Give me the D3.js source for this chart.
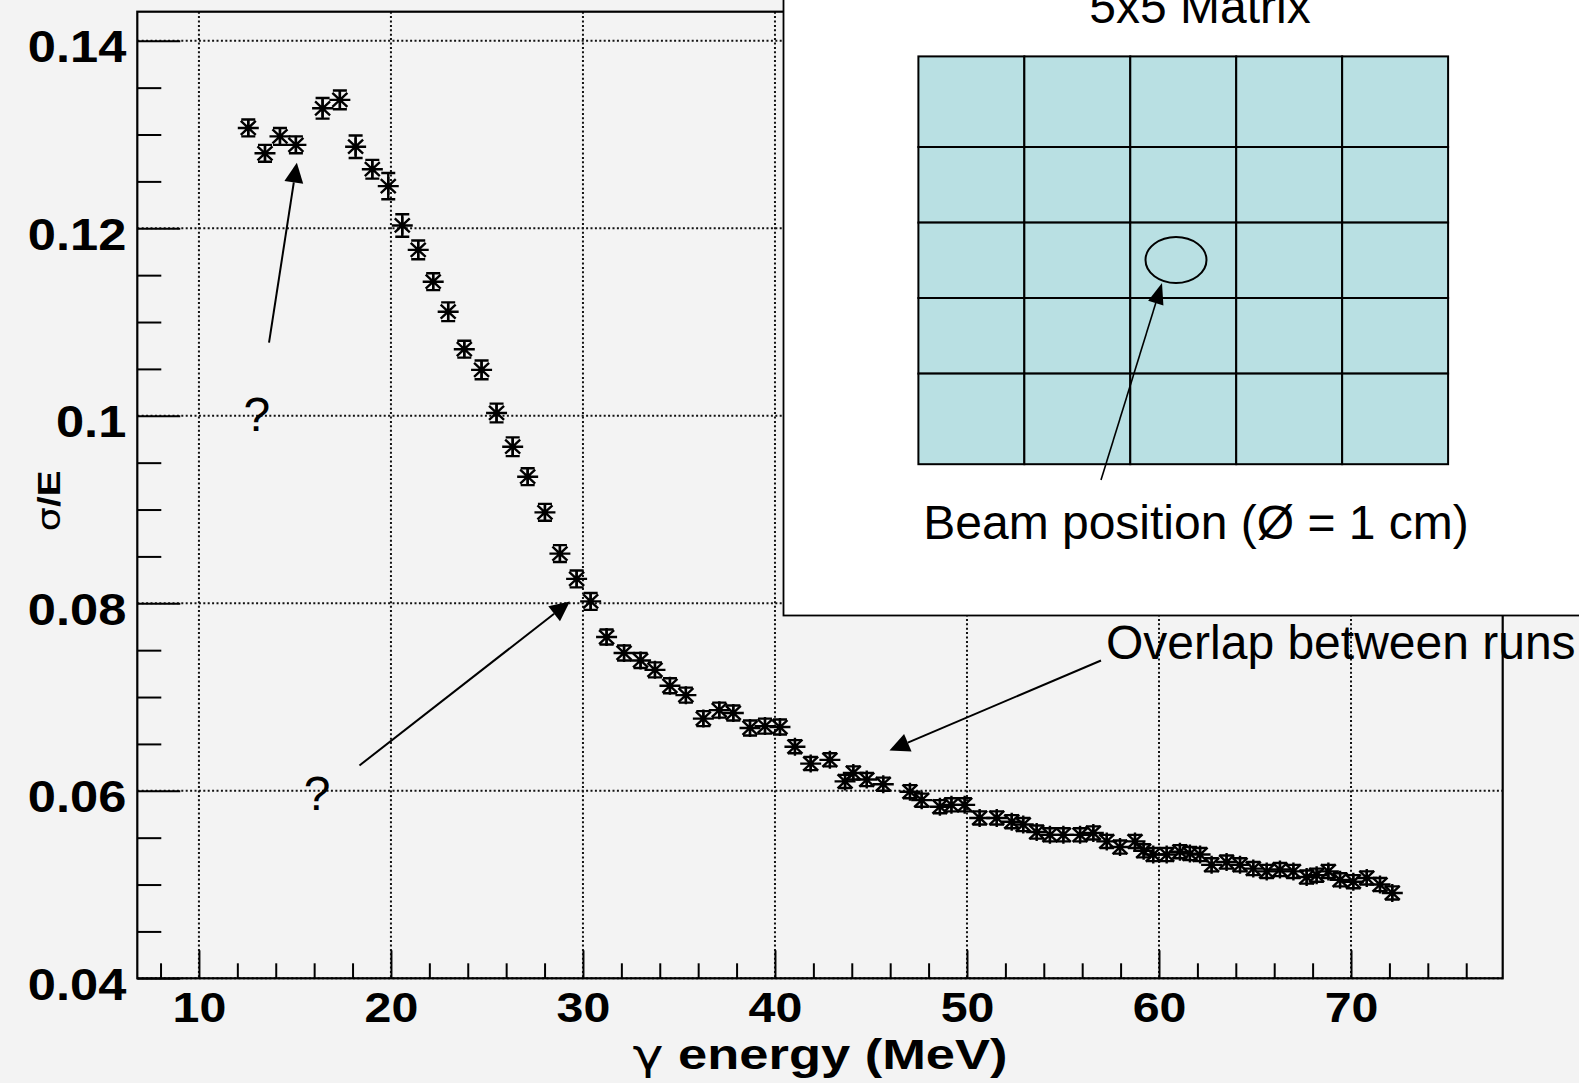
<!DOCTYPE html>
<html>
<head>
<meta charset="utf-8">
<script src="https://cdn.jsdelivr.net/npm/d3@7"></script>
<style>
  html, body { margin: 0; padding: 0; background: #f3f3f3; }
  svg { display: block; }
</style>
</head>
<body>
<svg id="chart"></svg>
<script>
// --- data ---
const energy = [12.57, 13.44, 14.22, 15.05, 16.44, 17.34, 18.16, 19.03, 19.86, 20.59,
  21.42, 22.20, 22.98, 23.82, 24.72, 25.50, 26.34, 27.12, 28.02, 28.80,
  29.67, 30.40, 31.23, 32.14, 33.00, 33.75, 34.53, 35.36, 36.27, 37.10,
  37.83, 38.70, 39.48, 40.26, 41.04, 41.86, 42.86, 43.65, 44.08, 44.78,
  45.64, 47.03, 47.64, 48.59, 49.19, 49.88, 50.66, 51.55, 52.33, 52.93,
  53.63, 54.32, 55.02, 55.89, 56.58, 57.28, 57.97, 58.75, 59.20, 59.70,
  60.40, 61.09, 61.61, 62.14, 62.74, 63.52, 64.22, 64.91, 65.61, 66.30,
  67.00, 67.69, 68.21, 68.82, 69.43, 70.12, 70.82, 71.51, 72.15];
const sigmaE = [0.1307, 0.1280, 0.1298, 0.1289, 0.1328, 0.1337, 0.1287, 0.1263, 0.1245, 0.1203,
  0.1177, 0.1143, 0.1111, 0.1071, 0.1049, 0.1003, 0.0967, 0.0935, 0.0897, 0.0853,
  0.0826, 0.0802, 0.0764, 0.0747, 0.0739, 0.0729, 0.0712, 0.0702, 0.0677, 0.0686,
  0.0683, 0.0667, 0.0669, 0.0668, 0.0647, 0.0629, 0.0633, 0.0610, 0.0619, 0.0612,
  0.0607, 0.0599, 0.0590, 0.0583, 0.0585, 0.0585, 0.0571, 0.0571, 0.0567, 0.0564,
  0.0556, 0.0553, 0.0553, 0.0553, 0.0555, 0.0546, 0.0540, 0.0546, 0.0536, 0.0532,
  0.0532, 0.0535, 0.0533, 0.0532, 0.0521, 0.0524, 0.0521, 0.0517, 0.0514, 0.0516,
  0.0514, 0.0508, 0.0510, 0.0514, 0.0505, 0.0503, 0.0507, 0.0500, 0.0491];
const sigmaErr = [0.0009, 0.0009, 0.0009, 0.0009, 0.0011, 0.0010, 0.0012, 0.0010, 0.0014, 0.0012,
  0.0010, 0.0009, 0.0010, 0.0009, 0.0010, 0.0010, 0.0010, 0.0009, 0.0009, 0.0009,
  0.0009, 0.0009, 0.0008, 0.0008, 0.0008, 0.0008, 0.0008, 0.0008, 0.0008, 0.0008,
  0.0008, 0.0008, 0.0008, 0.0008, 0.0007, 0.0007, 0.0007, 0.0007, 0.0007, 0.0007,
  0.0007, 0.0007, 0.0007, 0.0007, 0.0007, 0.0007, 0.0007, 0.0007, 0.0007, 0.0007,
  0.0007, 0.0007, 0.0007, 0.0007, 0.0007, 0.0007, 0.0007, 0.0007, 0.0007, 0.0007,
  0.0007, 0.0007, 0.0007, 0.0007, 0.0007, 0.0007, 0.0007, 0.0007, 0.0007, 0.0007,
  0.0007, 0.0007, 0.0007, 0.0007, 0.0007, 0.0007, 0.0007, 0.0007, 0.0007];

const xTicks = [10, 20, 30, 40, 50, 60, 70];
const xTickLabels = ["10", "20", "30", "40", "50", "60", "70"];
const yTicks = [0.04, 0.06, 0.08, 0.10, 0.12, 0.14];
const yTickLabels = ["0.04", "0.06", "0.08", "0.1", "0.12", "0.14"];
const xTitle = ["\u03b3", " energy (MeV)"];
const yTitle = ["\u03c3", "/E"];
const insetTitle = "5x5 Matrix";
const insetCaption = "Beam position (\u00d8 = 1 cm)";
const overlapNote = "Overlap between runs";

// annotations in data units [x1, y1, x2, y2] (arrow tip at x2,y2)
const arrows = [[13.65, 0.1078, 15.10, 0.1270], [18.36, 0.0627, 29.32, 0.0802], [56.98, 0.0739, 45.96, 0.0643]];
const questionMarks = [[13.02, 0.0984], [16.15, 0.05795]];
const overlapAt = [57.24, 0.07406];

// --- layout ---
const width = 1579, height = 1083;
const frame = { left: 137.3, right: 1502.7, top: 11.7, bottom: 978.3 };
const boldFont = "'Liberation Sans', Arial, Helvetica, sans-serif";
const greekFont = "'DejaVu Sans', 'Liberation Sans', sans-serif";
const regFont = "'Liberation Sans', Arial, Helvetica, sans-serif";
const stretch = 1.15; // axis text in the picture is wider than normal

const svg = d3.select("#chart").attr("width", width).attr("height", height);
svg.append("rect").attr("width", width).attr("height", height).attr("fill", "#f3f3f3");

const x = d3.scaleLinear().domain([6.79, 77.9]).range([frame.left, frame.right]);
const y = d3.scaleLinear().domain([0.04, 0.1431]).range([frame.bottom, frame.top]);

// dotted grid
const grid = svg.append("g")
  .attr("stroke", "#111").attr("stroke-width", 2).attr("stroke-dasharray", "2 2.4");
grid.selectAll(".gx").data(xTicks).join("line").attr("class", "gx")
  .attr("x1", d => x(d)).attr("x2", d => x(d)).attr("y1", frame.top).attr("y2", frame.bottom);
grid.selectAll(".gy").data(yTicks).join("line").attr("class", "gy")
  .attr("x1", frame.left).attr("x2", frame.right).attr("y1", d => y(d)).attr("y2", d => y(d));

// minor ticks
const xMinor = d3.range(8, 77, 2).filter(v => v % 10 !== 0);
const yMinor = d3.range(8, 29).filter(i => i % 4 !== 0).map(i => i * 0.005);

function styleAxis(g) {
  g.select(".domain").remove();
  g.selectAll("line").attr("stroke", "#000").attr("stroke-width", 2);
}

svg.append("g").attr("transform", `translate(0,${frame.bottom})`)
  .call(d3.axisBottom(x).tickValues(xMinor).tickSizeInner(-15).tickSizeOuter(0).tickFormat(""))
  .call(styleAxis);
svg.append("g").attr("transform", `translate(${frame.left},0)`)
  .call(d3.axisLeft(y).tickValues(yMinor).tickSizeInner(-24).tickSizeOuter(0).tickFormat(""))
  .call(styleAxis);

// major ticks with labels
const gx = svg.append("g").attr("transform", `translate(0,${frame.bottom})`)
  .call(d3.axisBottom(x).tickValues(xTicks).tickFormat((d, i) => xTickLabels[i])
    .tickSizeInner(-28).tickSizeOuter(0))
  .call(styleAxis);
gx.selectAll("text").attr("y", 43.4).attr("dy", 0)
  .attr("font-family", boldFont).attr("font-weight", "bold").attr("font-size", 42).attr("fill", "#000");

const gy = svg.append("g").attr("transform", `translate(${frame.left},0)`)
  .call(d3.axisLeft(y).tickValues(yTicks).tickFormat((d, i) => yTickLabels[i])
    .tickSizeInner(-43).tickSizeOuter(0).tickPadding(11))
  .call(styleAxis);
gy.selectAll("text").attr("dy", 21)
  .attr("font-family", boldFont).attr("font-weight", "bold").attr("font-size", 44).attr("fill", "#000");

[gx, gy].forEach(g => g.selectAll("text").each(function () {
  const w = this.getComputedTextLength();
  d3.select(this).attr("textLength", w * stretch).attr("lengthAdjust", "spacingAndGlyphs");
}));

// axis titles (greek letter thin, rest bold)
const xt = svg.append("text")
  .attr("x", (frame.left + frame.right) / 2).attr("y", 1069)
  .attr("text-anchor", "middle").attr("font-family", boldFont).attr("font-weight", "bold")
  .attr("font-size", 42).attr("textLength", 375).attr("lengthAdjust", "spacingAndGlyphs");
xt.append("tspan").attr("font-family", greekFont).attr("font-weight", "normal").text(xTitle[0]);
xt.append("tspan").text(xTitle[1]);

const yt = svg.append("text")
  .attr("transform", `translate(60.4,501) rotate(-90)`)
  .attr("text-anchor", "middle").attr("font-family", boldFont).attr("font-weight", "bold")
  .attr("font-size", 32).attr("textLength", 61).attr("lengthAdjust", "spacingAndGlyphs");
yt.append("tspan").attr("font-family", greekFont).attr("font-weight", "normal").text(yTitle[0]);
yt.append("tspan").text(yTitle[1]);

// frame
svg.append("rect")
  .attr("x", frame.left).attr("y", frame.top)
  .attr("width", frame.right - frame.left).attr("height", frame.bottom - frame.top)
  .attr("fill", "none").attr("stroke", "#000").attr("stroke-width", 2.2);

// data: asterisk markers with error bars
const points = energy.map((e, i) => ({ e, s: sigmaE[i], err: sigmaErr[i] }));
const marks = svg.append("g").attr("stroke", "#000").attr("stroke-width", 2.4).attr("fill", "none")
  .selectAll("g").data(points).join("g")
  .attr("transform", d => `translate(${x(d.e)},${y(d.s)})`);
marks.append("path").attr("d", d => {
  const t = y(d.s + d.err) - y(d.s), b = y(d.s - d.err) - y(d.s);
  return `M0,${t}V${b}M-7,${t}H7M-7,${b}H7`;
});
marks.append("path").attr("d", "M-10.5,0H10.5M0,-9V9M-7.5,-7L7.5,7M-7.5,7L7.5,-7");

// arrows
function arrow(g, x1, y1, x2, y2, len, half, sw) {
  const a = Math.atan2(y2 - y1, x2 - x1);
  const bx = x2 - len * Math.cos(a), by = y2 - len * Math.sin(a);
  g.append("line").attr("x1", x1).attr("y1", y1).attr("x2", bx).attr("y2", by)
    .attr("stroke", "#000").attr("stroke-width", sw);
  const px = -Math.sin(a) * half, py = Math.cos(a) * half;
  g.append("path").attr("d", `M${x2},${y2}L${bx + px},${by + py}L${bx - px},${by - py}Z`).attr("fill", "#000");
}

// inset: 5x5 matrix
const inset = svg.append("g");
inset.append("rect").attr("x", 783.5).attr("y", -10).attr("width", 900).attr("height", 625.5)
  .attr("fill", "#fff").attr("stroke", "#000").attr("stroke-width", 1.8);
const col = d3.scaleLinear().domain([0, 5]).range([918.4, 1448.1]);
const rowEdges = [56.4, 147, 222.6, 298, 373.6, 464.2];
const cells = [];
for (let r = 0; r < 5; r++) for (let c = 0; c < 5; c++) cells.push({ r, c });
inset.selectAll(".cell").data(cells).join("rect").attr("class", "cell")
  .attr("x", d => col(d.c)).attr("y", d => rowEdges[d.r])
  .attr("width", d => col(d.c + 1) - col(d.c)).attr("height", d => rowEdges[d.r + 1] - rowEdges[d.r])
  .attr("fill", "#b9e0e3").attr("stroke", "#000").attr("stroke-width", 2);
inset.append("ellipse").attr("cx", 1176).attr("cy", 260).attr("rx", 30.5).attr("ry", 23)
  .attr("fill", "none").attr("stroke", "#000").attr("stroke-width", 2);
arrow(inset, 1101, 480, 1162, 283, 21, 8, 1.6);
inset.append("text").attr("x", 1200).attr("y", 23.3).attr("text-anchor", "middle")
  .attr("font-family", regFont).attr("font-size", 48).text(insetTitle);
inset.append("text").attr("x", 1196).attr("y", 539).attr("text-anchor", "middle")
  .attr("font-family", regFont).attr("font-size", 48).text(insetCaption);

// annotations on the plot
const notes = svg.append("g");
arrows.forEach(a => arrow(notes, x(a[0]), y(a[1]), x(a[2]), y(a[3]), 20, 9.5, 2));
notes.selectAll(".q").data(questionMarks).join("text").attr("class", "q")
  .attr("x", d => x(d[0])).attr("y", d => y(d[1])).attr("text-anchor", "middle")
  .attr("font-family", regFont).attr("font-size", 48).text("?");
notes.append("text").attr("x", x(overlapAt[0])).attr("y", y(overlapAt[1]))
  .attr("font-family", regFont).attr("font-size", 48).text(overlapNote);
</script>
</body>
</html>
